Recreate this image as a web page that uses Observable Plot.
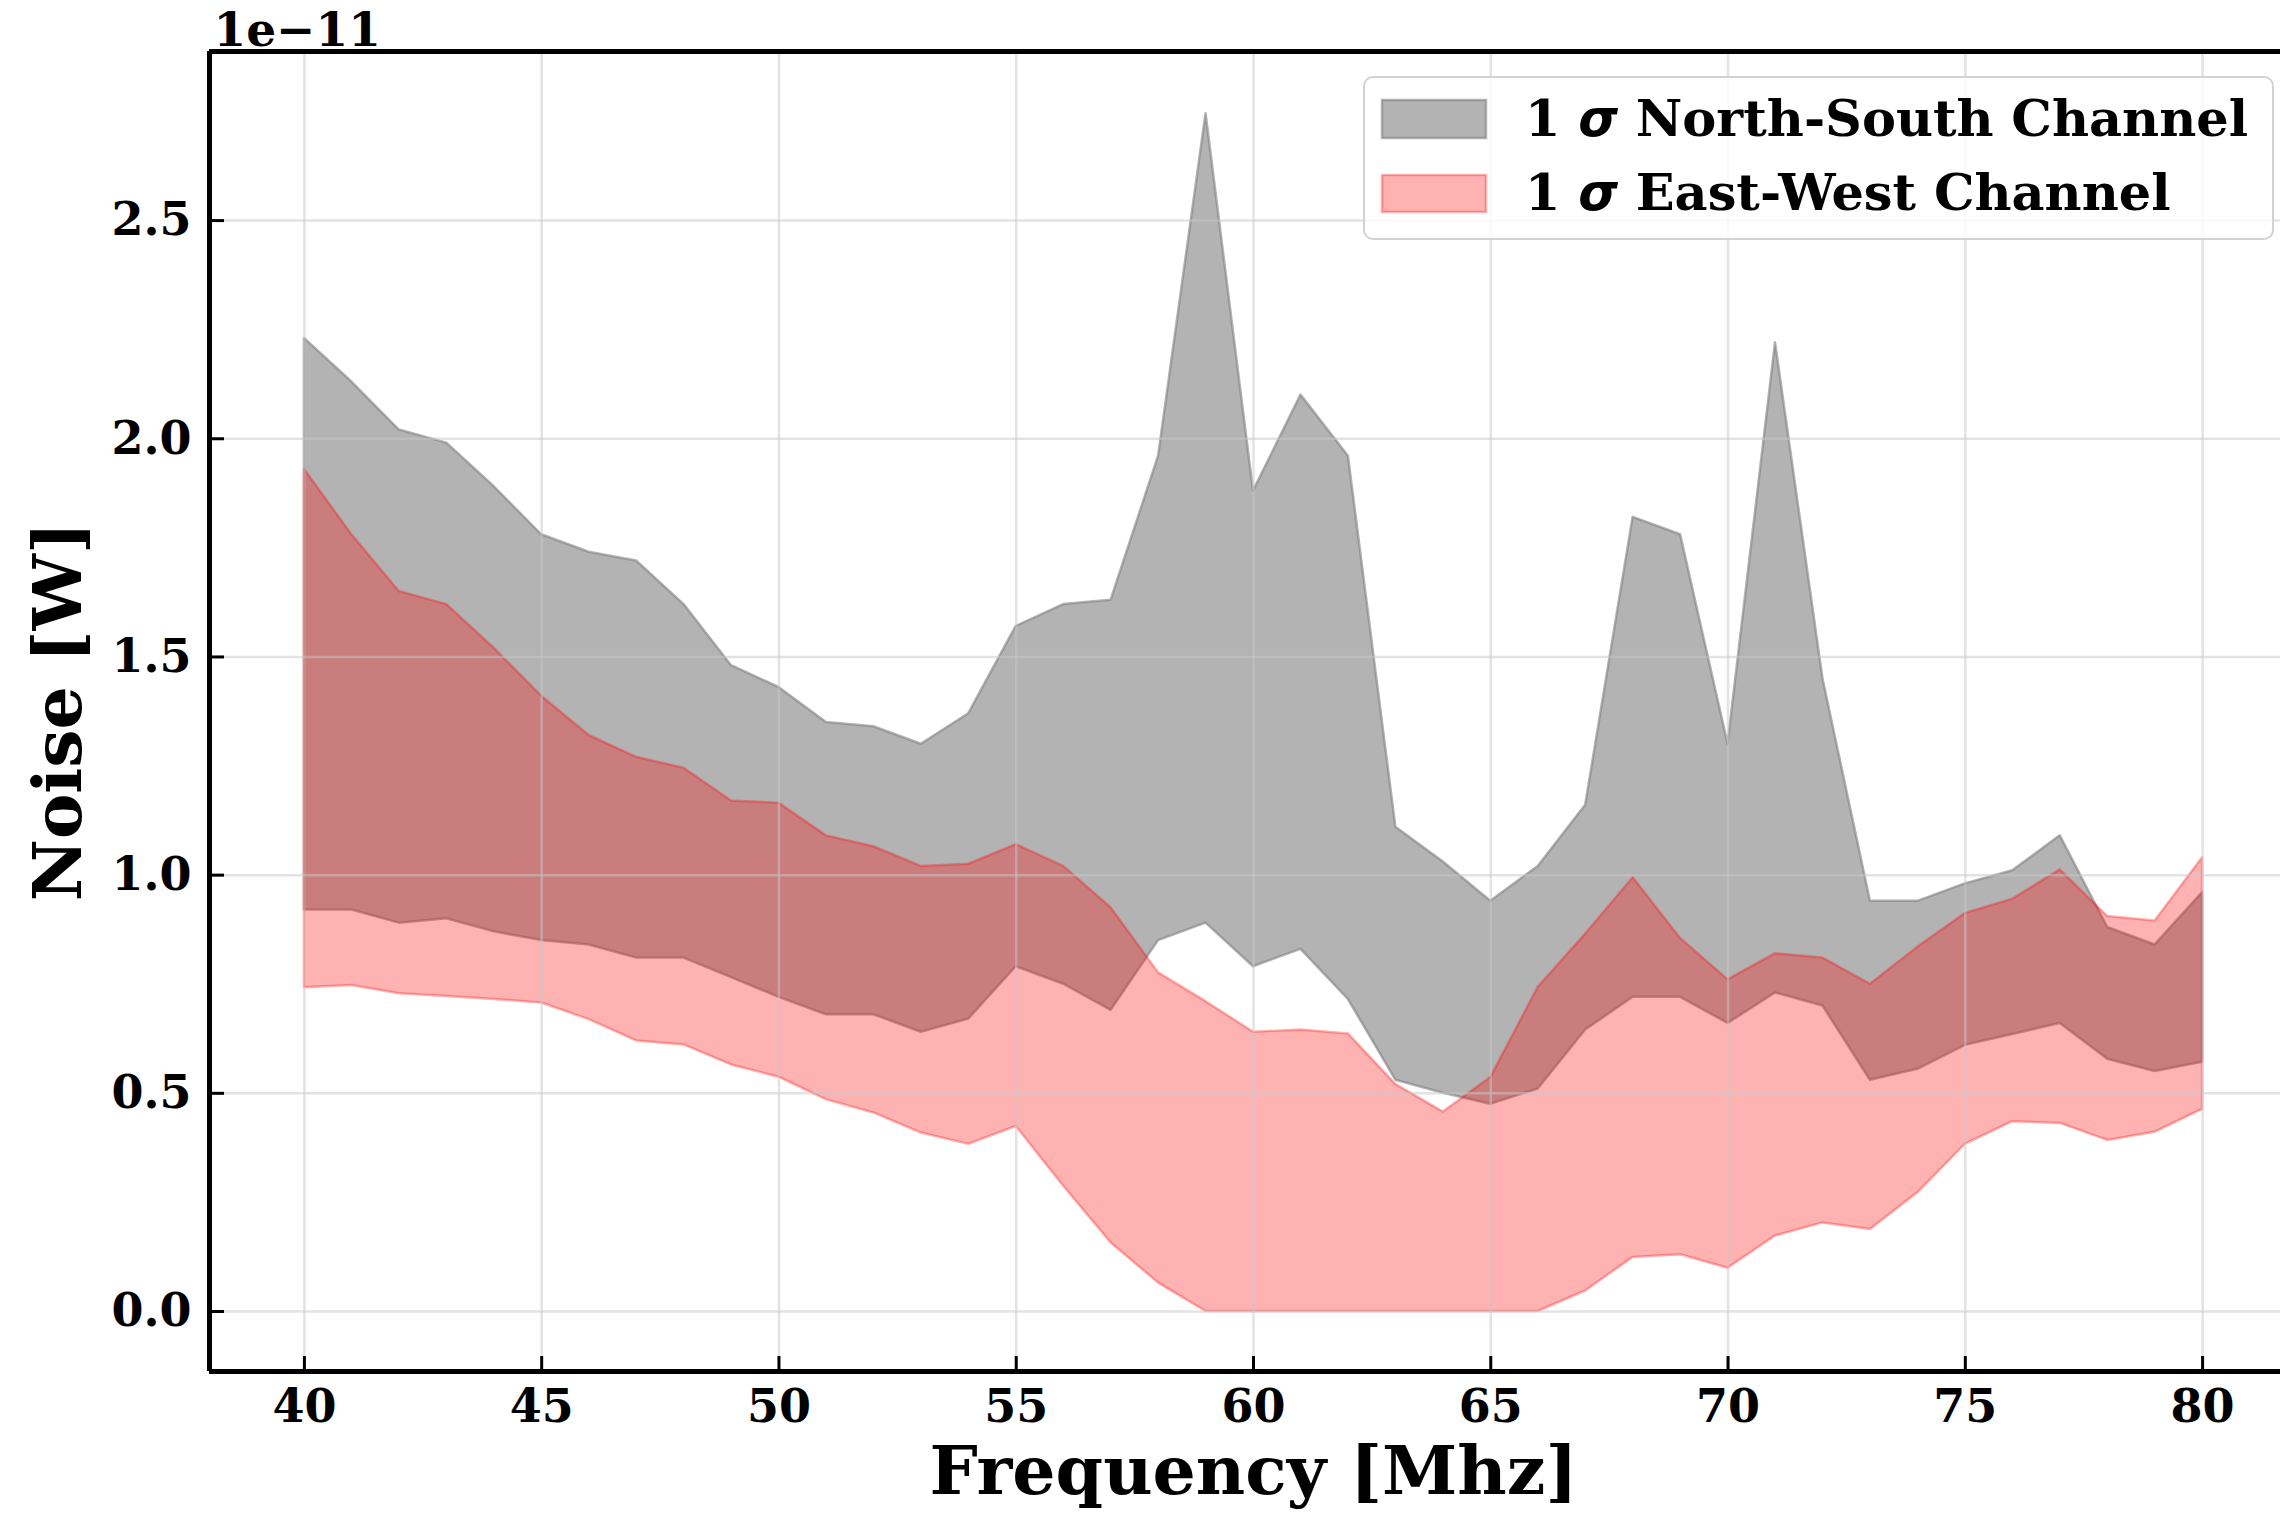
<!DOCTYPE html>
<html>
<head>
<meta charset="utf-8">
<script src="https://cdn.jsdelivr.net/npm/d3@7"></script>
<script src="https://cdn.jsdelivr.net/npm/@observablehq/plot@0.6"></script>
<style>
  html, body { margin: 0; padding: 0; background: #fff; overflow: hidden; }
  #wrap { position: relative; width: 2280px; height: 1527px; }
  #wrap svg { display: block; }
  #legend { position: absolute; left: 0; top: 0; pointer-events: none; }
</style>
</head>
<body>
<div id="wrap"></div>
<script>
// Frequency [MHz]
const freq = [40,41,42,43,44,45,46,47,48,49,50,51,52,53,54,55,56,57,58,59,60,
              61,62,63,64,65,66,67,68,69,70,71,72,73,74,75,76,77,78,79,80];
// Noise band limits, in units of 1e-11 W
const nsUpper = [2.23,2.13,2.02,1.99,1.89,1.78,1.74,1.72,1.62,1.48,1.43,1.35,1.34,1.30,1.37,1.57,1.62,1.63,1.96,2.745,1.88,
                 2.10,1.96,1.11,1.03,0.94,1.02,1.16,1.82,1.78,1.30,2.22,1.45,0.94,0.94,0.98,1.01,1.09,0.88,0.84,0.96];
const nsLower = [0.92,0.92,0.89,0.90,0.87,0.85,0.84,0.81,0.81,0.765,0.72,0.68,0.68,0.64,0.67,0.79,0.75,0.69,0.85,0.89,0.79,
                 0.83,0.715,0.53,0.50,0.475,0.51,0.645,0.72,0.72,0.66,0.73,0.70,0.53,0.555,0.61,0.635,0.66,0.578,0.55,0.571];
const ewUpper = [1.93,1.78,1.65,1.62,1.52,1.41,1.32,1.27,1.245,1.17,1.165,1.09,1.065,1.02,1.025,1.07,1.02,0.925,0.776,0.71,0.64,
                 0.645,0.636,0.52,0.457,0.536,0.743,0.865,0.994,0.855,0.76,0.82,0.81,0.75,0.835,0.912,0.945,1.012,0.905,0.895,1.04];
const ewLower = [0.742,0.747,0.728,0.722,0.715,0.707,0.669,0.62,0.611,0.565,0.537,0.485,0.455,0.409,0.383,0.424,0.287,0.157,0.065,0,0,
                 0,0,0,0,0,0,0.047,0.124,0.13,0.099,0.173,0.203,0.188,0.272,0.383,0.435,0.431,0.392,0.411,0.463];

const xTicks = [40,45,50,55,60,65,70,75,80];
const yTicks = [0,0.5,1.0,1.5,2.0,2.5];
const yTickLabels = ["0.0","0.5","1.0","1.5","2.0","2.5"];
const seriesNames = ["North-South Channel", "East-West Channel"];
const offsetLabel = "1e\u221211";
const xLabel = "Frequency [Mhz]";
const yLabel = "Noise [W]";

const data = freq.map((f, i) => ({f, nsLo: nsLower[i], nsHi: nsUpper[i], ewLo: ewLower[i], ewHi: ewUpper[i]}));

const W = 2280, H = 1527;
const mL = 209, mR = -17, mT = 51, mB = 156;
const xDomain = [38, 82];
const yDomain = [-0.1375, 2.8875];
const plotW = W - mL - mR, plotH = H - mT - mB;
const tickLen = 15;
const font = "'DejaVu Serif', serif";

const chart = Plot.plot({
  width: W, height: H,
  marginLeft: mL, marginRight: mR, marginTop: mT, marginBottom: mB,
  x: {domain: xDomain},
  y: {domain: yDomain},
  style: {fontFamily: font, fontWeight: "bold", fontSize: "46px", background: "white", color: "black"},
  marks: [
    Plot.areaY(data, {x: "f", y1: "nsLo", y2: "nsHi", fill: "gray", fillOpacity: 0.6,
                      stroke: "gray", strokeOpacity: 0.6, strokeWidth: 2.5}),
    Plot.areaY(data, {x: "f", y1: "ewLo", y2: "ewHi", fill: "red", fillOpacity: 0.3,
                      stroke: "red", strokeOpacity: 0.3, strokeWidth: 2.5}),
    Plot.gridX(xTicks, {stroke: "#c8c8c8", strokeOpacity: 0.5, strokeWidth: 2.5}),
    Plot.gridY(yTicks, {stroke: "#c8c8c8", strokeOpacity: 0.5, strokeWidth: 2.5}),
    Plot.axisX(xTicks, {tickSize: 0, tickPadding: 18, label: null, fontSize: 46, fontWeight: "bold"}),
    Plot.axisY(yTicks, {tickSize: 0, tickPadding: 18, label: null, fontSize: 46, fontWeight: "bold",
                        tickFormat: (d) => yTickLabels[yTicks.indexOf(d)]}),
    Plot.tickX(xTicks, {x: d => d, stroke: "black", strokeWidth: 3, insetTop: plotH - tickLen}),
    Plot.tickY(yTicks, {y: d => d, stroke: "black", strokeWidth: 3, insetRight: plotW - tickLen}),
    Plot.ruleX([xDomain[0]], {stroke: "black", strokeWidth: 5}),
    Plot.ruleY(yDomain, {stroke: "black", strokeWidth: 5}),
    Plot.text([offsetLabel], {text: d => d, frameAnchor: "top-left", textAnchor: "start", lineAnchor: "middle",
                              dx: 4, dy: -21, fontSize: 47, fontWeight: "bold"}),
    Plot.text([xLabel], {text: d => d, frameAnchor: "bottom", textAnchor: "middle", lineAnchor: "middle",
                         dy: 101, fontSize: 68, fontWeight: "bold"}),
    Plot.text([yLabel], {text: d => d, frameAnchor: "left", textAnchor: "middle", lineAnchor: "middle", rotate: -90,
                         dx: -150, fontSize: 68, fontWeight: "bold"})
  ]
});

const wrap = document.getElementById("wrap");
wrap.appendChild(chart);

// Legend overlay (inside the axes, upper right)
const leg = d3.select(wrap).append("svg")
  .attr("id", "legend").attr("width", W).attr("height", H);
leg.append("rect").attr("x", 1364).attr("y", 77).attr("width", 909).attr("height", 162).attr("rx", 9)
  .attr("fill", "white").attr("fill-opacity", 0.8).attr("stroke", "#d2d2d2").attr("stroke-width", 2);
const sw = [
  {fill: "gray", op: 0.6, y: 100, h: 38, base: 136},
  {fill: "red", op: 0.3, y: 175, h: 37, base: 210}
];
sw.forEach((s, i) => {
  leg.append("rect").attr("x", 1382).attr("y", s.y).attr("width", 104).attr("height", s.h)
    .attr("fill", s.fill).attr("fill-opacity", s.op).attr("stroke", s.fill).attr("stroke-opacity", s.op).attr("stroke-width", 2.5);
  const t = leg.append("text").attr("x", 1525).attr("y", s.base)
    .attr("font-family", font).attr("font-weight", "bold").attr("font-size", 51).attr("fill", "black")
    .attr("xml:space", "preserve");
  t.append("tspan").text("1 ");
  t.append("tspan").attr("font-family", "'DejaVu Sans', sans-serif").attr("font-style", "italic").text("\u03c3");
  t.append("tspan").text(" " + seriesNames[i]);
});
</script>
</body>
</html>
